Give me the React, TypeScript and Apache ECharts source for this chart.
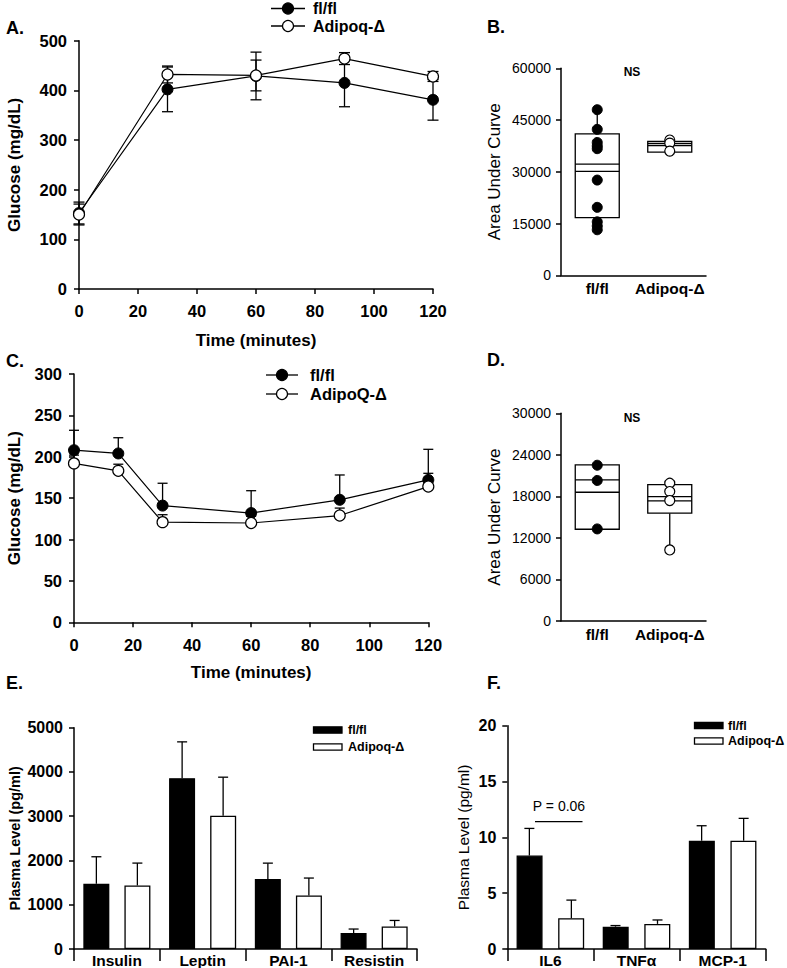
import React, { useEffect, useRef } from 'react';
import * as echarts from 'echarts';

const FONT = 'Arial, "Liberation Sans", Helvetica, sans-serif';

// ---- Panel A: glucose tolerance test ----
const gttTimes = [0, 30, 60, 90, 120];
const gttFlMean = [153, 402, 429, 415, 381];
const gttFlErr = [22, 45, 48, 48, 41];
const gttAdMean = [150, 432, 430, 464, 428];
const gttAdErr = [21, 17, 31, 12, 10];

// ---- Panel B: GTT area under curve ----
const groupCats = ['fl/fl', 'Adipoq-Δ'];
const aucGttFlPoints = [48000, 42300, 38500, 37500, 36700, 27600, 19700, 15500, 14300, 13200];
const aucGttAdPoints = [39200, 38300, 36000];
// [whiskerLow, q1, median, mean, q3, whiskerHigh]
const aucGttFlBox = [15500, 16700, 30100, 32200, 41000, 48000];
const aucGttAdBox = [35700, 35700, 37600, 38200, 38800, 38800];

// ---- Panel C: insulin tolerance test ----
const ittTimes = [0, 15, 30, 60, 90, 120];
const ittFlMean = [208, 204, 141, 132, 148, 172];
const ittFlErr = [24, 19, 27, 27, 30, 37];
const ittAdMean = [192, 183, 121, 120, 129, 164];
const ittAdErr = [10, 8, 9, 8, 9, 16];

// ---- Panel D: ITT area under curve ----
const aucIttFlPoints = [22500, 20300, 13300];
const aucIttAdPoints = [19900, 18700, 17400, 10260];
const aucIttFlBox = [13250, 13250, 20380, 18600, 22550, 22550];
const aucIttAdBox = [10260, 15570, 17970, 17350, 19700, 19700];

// ---- Panel E: adipokines ----
const adipokineCats = ['Insulin', 'Leptin', 'PAI-1', 'Resistin'];
const adipokineFl = [1474, 3860, 1580, 361];
const adipokineFlErr = [610, 820, 360, 90];
const adipokineAd = [1436, 3009, 1210, 510];
const adipokineAdErr = [505, 873, 393, 135];

// ---- Panel F: cytokines ----
const cytokineCats = ['IL6', 'TNFα', 'MCP-1'];
const cytokineFl = [8.37, 2.0, 9.7];
const cytokineFlErr = [2.43, 0.1, 1.34];
const cytokineAd = [2.75, 2.25, 9.7];
const cytokineAdErr = [1.63, 0.35, 2.0];

const BLACK = '#000';
const errStyle = { stroke: BLACK, lineWidth: 1.3, fill: 'none' };

function lineErrRender(capHalf: number, both: boolean) {
  return (_p: any, api: any) => {
    const x = api.value(0);
    const y = api.value(1);
    const e = api.value(2);
    const top = api.coord([x, y + e]);
    const bot = api.coord([x, both ? y - e : y]);
    const children: any[] = [
      { type: 'line', shape: { x1: top[0], y1: top[1], x2: bot[0], y2: bot[1] }, style: errStyle },
      { type: 'line', shape: { x1: top[0] - capHalf, y1: top[1], x2: top[0] + capHalf, y2: top[1] }, style: errStyle },
    ];
    if (both) {
      children.push({ type: 'line', shape: { x1: bot[0] - capHalf, y1: bot[1], x2: bot[0] + capHalf, y2: bot[1] }, style: errStyle });
    }
    return { type: 'group', children };
  };
}

function barErrRender(dx: number, capHalf: number) {
  return (_p: any, api: any) => {
    const c = api.value(0);
    const y = api.value(1);
    const e = api.value(2);
    const top = api.coord([c, y + e]);
    const bot = api.coord([c, y]);
    const x = top[0] + dx;
    return {
      type: 'group',
      children: [
        { type: 'line', shape: { x1: x, y1: top[1], x2: x, y2: bot[1] }, style: errStyle },
        { type: 'line', shape: { x1: x - capHalf, y1: top[1], x2: x + capHalf, y2: top[1] }, style: errStyle },
      ],
    };
  };
}

function boxRender(halfW: number) {
  return (_p: any, api: any) => {
    const c = api.value(0);
    const wl = api.value(1), q1 = api.value(2), med = api.value(3), mean = api.value(4), q3 = api.value(5), wh = api.value(6);
    const pq1 = api.coord([c, q1]);
    const pq3 = api.coord([c, q3]);
    const pmed = api.coord([c, med]);
    const pmean = api.coord([c, mean]);
    const pwl = api.coord([c, wl]);
    const pwh = api.coord([c, wh]);
    const cx = pq1[0];
    const st = { stroke: BLACK, lineWidth: 1.3, fill: '#fff' };
    const ln = { stroke: BLACK, lineWidth: 1.3 };
    const children: any[] = [];
    if (wh > q3) children.push({ type: 'line', shape: { x1: cx, y1: pq3[1], x2: cx, y2: pwh[1] }, style: ln });
    if (wl < q1) children.push({ type: 'line', shape: { x1: cx, y1: pq1[1], x2: cx, y2: pwl[1] }, style: ln });
    children.push({ type: 'rect', shape: { x: cx - halfW, y: pq3[1], width: 2 * halfW, height: pq1[1] - pq3[1] }, style: st });
    children.push({ type: 'line', shape: { x1: cx - halfW, y1: pmed[1], x2: cx + halfW, y2: pmed[1] }, style: ln });
    children.push({ type: 'line', shape: { x1: cx - halfW, y1: pmean[1], x2: cx + halfW, y2: pmean[1] }, style: ln });
    return { type: 'group', children };
  };
}

const axisLine = { show: true, onZero: false, lineStyle: { color: BLACK, width: 1.5 } };
const tick = (len: number) => ({ show: true, inside: false, length: len, lineStyle: { color: BLACK, width: 1.5 } });
const lbl = (size: number, bold: boolean, margin: number) => ({
  color: BLACK,
  fontFamily: FONT,
  fontSize: size,
  fontWeight: bold ? 'bold' : 'normal',
  margin,
  interval: 0,
  hideOverlap: false,
});
const numLbl = (size: number, bold: boolean, margin: number) => ({
  color: BLACK,
  fontFamily: FONT,
  fontSize: size,
  fontWeight: bold ? 'bold' : 'normal',
  margin,
  formatter: (v: number) => String(v),
});
const nameStyle = (size: number, bold: boolean) => ({
  color: BLACK,
  fontFamily: FONT,
  fontSize: size,
  fontWeight: bold ? 'bold' : 'normal',
});

function txt(text: string, x: number, y: number, size: number, bold: boolean, align = 'left') {
  return {
    type: 'text',
    x,
    y,
    style: {
      text,
      font: `${bold ? 'bold ' : ''}${size}px ${FONT}`,
      fill: BLACK,
      textAlign: align,
      textVerticalAlign: 'middle',
    },
  };
}

function lineLegend(x1: number, x2: number, y: number, filled: boolean) {
  return [
    { type: 'line', shape: { x1, y1: y, x2, y2: y }, style: { stroke: BLACK, lineWidth: 1.3 } },
    {
      type: 'circle',
      shape: { cx: (x1 + x2) / 2, cy: y, r: 5.5 },
      style: { fill: filled ? BLACK : '#fff', stroke: BLACK, lineWidth: 1.2 },
    },
  ];
}

function barLegend(x: number, y: number, filled: boolean) {
  return {
    type: 'rect',
    shape: { x, y: y - 3.2, width: 28.5, height: 6.4 },
    style: { fill: filled ? BLACK : '#fff', stroke: BLACK, lineWidth: 1.3 },
  };
}

const filledItem = { color: BLACK, borderColor: BLACK, borderWidth: 1, opacity: 1 };
const openItem = { color: '#fff', borderColor: BLACK, borderWidth: 1.2, opacity: 1 };

const option: any = {
  animation: false,
  backgroundColor: '#fff',
  grid: [
    { left: 79, top: 40.7, width: 354, height: 248.3 },
    { left: 561, top: 68.3, width: 145, height: 207 },
    { left: 74, top: 374, width: 354.3, height: 248.3 },
    { left: 561, top: 413.3, width: 145, height: 207.7 },
    { left: 74, top: 727.7, width: 343, height: 221.6 },
    { left: 507.3, top: 725.7, width: 258.4, height: 225.3 },
  ],
  xAxis: [
    {
      gridIndex: 0, type: 'value', min: 0, max: 120, interval: 20,
      axisLine, axisTick: tick(5), splitLine: { show: false },
      axisLabel: numLbl(16.5, true, 13),
      name: 'Time (minutes)', nameLocation: 'middle', nameGap: 43, nameTextStyle: nameStyle(17, true),
    },
    {
      gridIndex: 1, type: 'category', data: groupCats,
      axisLine, axisTick: { show: false }, splitLine: { show: false },
      axisLabel: lbl(15.5, true, 5),
    },
    {
      gridIndex: 2, type: 'value', min: 0, max: 120, interval: 20,
      axisLine, axisTick: tick(5), splitLine: { show: false },
      axisLabel: numLbl(16.5, true, 14),
      name: 'Time (minutes)', nameLocation: 'middle', nameGap: 42, nameTextStyle: nameStyle(17, true),
    },
    {
      gridIndex: 3, type: 'category', data: groupCats,
      axisLine, axisTick: { show: false }, splitLine: { show: false },
      axisLabel: lbl(15.5, true, 5),
    },
    {
      gridIndex: 4, type: 'category', data: adipokineCats,
      axisLine, axisTick: tick(12), splitLine: { show: false },
      axisLabel: lbl(15.5, true, 3),
    },
    {
      gridIndex: 5, type: 'category', data: cytokineCats,
      axisLine, axisTick: tick(12), splitLine: { show: false },
      axisLabel: lbl(15.5, true, 3),
    },
  ],
  yAxis: [
    {
      gridIndex: 0, type: 'value', min: 0, max: 500, interval: 100,
      axisLine, axisTick: tick(5), splitLine: { show: false },
      axisLabel: numLbl(16.5, true, 12),
      name: 'Glucose (mg/dL)', nameLocation: 'middle', nameGap: 56, nameTextStyle: nameStyle(17, true),
    },
    {
      gridIndex: 1, type: 'value', min: 0, max: 60000, interval: 15000,
      axisLine, axisTick: tick(5), splitLine: { show: false },
      axisLabel: numLbl(14, false, 10),
      name: 'Area Under Curve', nameLocation: 'middle', nameGap: 58, nameTextStyle: nameStyle(17, false),
    },
    {
      gridIndex: 2, type: 'value', min: 0, max: 300, interval: 50,
      axisLine, axisTick: tick(5), splitLine: { show: false },
      axisLabel: numLbl(16.5, true, 12),
      name: 'Glucose (mg/dL)', nameLocation: 'middle', nameGap: 51, nameTextStyle: nameStyle(17, true),
    },
    {
      gridIndex: 3, type: 'value', min: 0, max: 30000, interval: 6000,
      axisLine, axisTick: tick(5), splitLine: { show: false },
      axisLabel: numLbl(14, false, 10),
      name: 'Area Under Curve', nameLocation: 'middle', nameGap: 58, nameTextStyle: nameStyle(17, false),
    },
    {
      gridIndex: 4, type: 'value', min: 0, max: 5000, interval: 1000,
      axisLine, axisTick: tick(5), splitLine: { show: false },
      axisLabel: numLbl(16, true, 11),
      name: 'Plasma Level (pg/ml)', nameLocation: 'middle', nameGap: 52, nameTextStyle: nameStyle(14.5, true),
    },
    {
      gridIndex: 5, type: 'value', min: 0, max: 20, interval: 5,
      axisLine, axisTick: tick(5), splitLine: { show: false },
      axisLabel: numLbl(16, true, 11),
      name: 'Plasma Level (pg/ml)', nameLocation: 'middle', nameGap: 36, nameTextStyle: nameStyle(15.5, false),
    },
  ],
  series: [
    // Panel A
    {
      type: 'custom', name: 'fl/fl err A', xAxisIndex: 0, yAxisIndex: 0, z: 1,
      renderItem: lineErrRender(5.5, true),
      data: gttTimes.map((t, i) => [t, gttFlMean[i], gttFlErr[i]]),
    },
    {
      type: 'custom', name: 'Adipoq-Δ err A', xAxisIndex: 0, yAxisIndex: 0, z: 1,
      renderItem: lineErrRender(5.5, true),
      data: gttTimes.map((t, i) => [t, gttAdMean[i], gttAdErr[i]]),
    },
    {
      type: 'line', name: 'fl/fl', xAxisIndex: 0, yAxisIndex: 0, z: 3,
      data: gttTimes.map((t, i) => [t, gttFlMean[i]]),
      symbol: 'circle', symbolSize: 11,
      lineStyle: { color: BLACK, width: 1.2 },
      itemStyle: filledItem,
    },
    {
      type: 'line', name: 'Adipoq-Δ', xAxisIndex: 0, yAxisIndex: 0, z: 4,
      data: gttTimes.map((t, i) => [t, gttAdMean[i]]),
      symbol: 'circle', symbolSize: 11,
      lineStyle: { color: BLACK, width: 1.2 },
      itemStyle: openItem,
    },
    // Panel B
    {
      type: 'custom', name: 'AUC GTT box', xAxisIndex: 1, yAxisIndex: 1, z: 2,
      renderItem: boxRender(22),
      data: [[0, ...aucGttFlBox], [1, ...aucGttAdBox]],
    },
    {
      type: 'scatter', name: 'fl/fl AUC', xAxisIndex: 1, yAxisIndex: 1, z: 3,
      symbol: 'circle', symbolSize: 10,
      itemStyle: filledItem,
      data: aucGttFlPoints.map((v) => [0, v]),
    },
    {
      type: 'scatter', name: 'Adipoq-Δ AUC', xAxisIndex: 1, yAxisIndex: 1, z: 3,
      symbol: 'circle', symbolSize: 10,
      itemStyle: openItem,
      data: aucGttAdPoints.map((v) => [1, v]),
    },
    // Panel C
    {
      type: 'custom', name: 'fl/fl err C', xAxisIndex: 2, yAxisIndex: 2, z: 1,
      renderItem: lineErrRender(5, false),
      data: ittTimes.map((t, i) => [t, ittFlMean[i], ittFlErr[i]]),
    },
    {
      type: 'custom', name: 'AdipoQ-Δ err C', xAxisIndex: 2, yAxisIndex: 2, z: 1,
      renderItem: lineErrRender(5, false),
      data: ittTimes.map((t, i) => [t, ittAdMean[i], ittAdErr[i]]),
    },
    {
      type: 'line', name: 'fl/fl ITT', xAxisIndex: 2, yAxisIndex: 2, z: 3,
      data: ittTimes.map((t, i) => [t, ittFlMean[i]]),
      symbol: 'circle', symbolSize: 11,
      lineStyle: { color: BLACK, width: 1.2 },
      itemStyle: filledItem,
    },
    {
      type: 'line', name: 'AdipoQ-Δ ITT', xAxisIndex: 2, yAxisIndex: 2, z: 4,
      data: ittTimes.map((t, i) => [t, ittAdMean[i]]),
      symbol: 'circle', symbolSize: 11,
      lineStyle: { color: BLACK, width: 1.2 },
      itemStyle: openItem,
    },
    // Panel D
    {
      type: 'custom', name: 'AUC ITT box', xAxisIndex: 3, yAxisIndex: 3, z: 2,
      renderItem: boxRender(22),
      data: [[0, ...aucIttFlBox], [1, ...aucIttAdBox]],
    },
    {
      type: 'scatter', name: 'fl/fl AUC ITT', xAxisIndex: 3, yAxisIndex: 3, z: 3,
      symbol: 'circle', symbolSize: 10,
      itemStyle: filledItem,
      data: aucIttFlPoints.map((v) => [0, v]),
    },
    {
      type: 'scatter', name: 'Adipoq-Δ AUC ITT', xAxisIndex: 3, yAxisIndex: 3, z: 3,
      symbol: 'circle', symbolSize: 10,
      itemStyle: openItem,
      data: aucIttAdPoints.map((v) => [1, v]),
    },
    // Panel E
    {
      type: 'bar', name: 'fl/fl E', xAxisIndex: 4, yAxisIndex: 4, z: 2,
      data: adipokineFl, barWidth: 26, barGap: '58%',
      itemStyle: { color: BLACK, borderColor: BLACK, borderWidth: 1.3 },
    },
    {
      type: 'bar', name: 'Adipoq-Δ E', xAxisIndex: 4, yAxisIndex: 4, z: 2,
      data: adipokineAd, barWidth: 26, barGap: '58%',
      itemStyle: { color: '#fff', borderColor: BLACK, borderWidth: 1.3 },
    },
    {
      type: 'custom', name: 'fl/fl err E', xAxisIndex: 4, yAxisIndex: 4, z: 3,
      renderItem: barErrRender(-20.5, 5),
      data: adipokineFl.map((v, i) => [i, v, adipokineFlErr[i]]),
    },
    {
      type: 'custom', name: 'Adipoq-Δ err E', xAxisIndex: 4, yAxisIndex: 4, z: 3,
      renderItem: barErrRender(20.5, 5),
      data: adipokineAd.map((v, i) => [i, v, adipokineAdErr[i]]),
    },
    // Panel F
    {
      type: 'bar', name: 'fl/fl F', xAxisIndex: 5, yAxisIndex: 5, z: 2,
      data: cytokineFl, barWidth: 26, barGap: '60%',
      itemStyle: { color: BLACK, borderColor: BLACK, borderWidth: 1.3 },
    },
    {
      type: 'bar', name: 'Adipoq-Δ F', xAxisIndex: 5, yAxisIndex: 5, z: 2,
      data: cytokineAd, barWidth: 26, barGap: '60%',
      itemStyle: { color: '#fff', borderColor: BLACK, borderWidth: 1.3 },
    },
    {
      type: 'custom', name: 'fl/fl err F', xAxisIndex: 5, yAxisIndex: 5, z: 3,
      renderItem: barErrRender(-21, 5),
      data: cytokineFl.map((v, i) => [i, v, cytokineFlErr[i]]),
    },
    {
      type: 'custom', name: 'Adipoq-Δ err F', xAxisIndex: 5, yAxisIndex: 5, z: 3,
      renderItem: barErrRender(21, 5),
      data: cytokineAd.map((v, i) => [i, v, cytokineAdErr[i]]),
    },
  ],
  graphic: [
    // panel letters
    txt('A.', 6, 28, 18, true),
    txt('B.', 487, 27, 18, true),
    txt('C.', 6, 361, 18, true),
    txt('D.', 487, 360, 18, true),
    txt('E.', 6, 683, 18, true),
    txt('F.', 487, 683, 18, true),
    // legend A
    ...lineLegend(271, 305, 8.5, true),
    txt('fl/fl', 313, 8.5, 16, true),
    ...lineLegend(271, 305, 26, false),
    txt('Adipoq-Δ', 313, 26, 16, true),
    // legend C
    ...lineLegend(266, 298, 375, true),
    txt('fl/fl', 310, 375, 16.5, true),
    ...lineLegend(266, 298, 394, false),
    txt('AdipoQ-Δ', 310, 394, 16.5, true),
    // NS labels
    txt('NS', 632, 72, 12, true, 'center'),
    txt('NS', 632, 418, 12, true, 'center'),
    // legend E
    barLegend(313.5, 730, true),
    txt('fl/fl', 348, 730, 12.5, true),
    barLegend(313.5, 747, false),
    txt('Adipoq-Δ', 348, 747, 12.5, true),
    // legend F
    barLegend(694.5, 725.5, true),
    txt('fl/fl', 728, 725.5, 12.5, true),
    barLegend(694.5, 741, false),
    txt('Adipoq-Δ', 728, 741, 12.5, true),
    // significance annotation F
    { type: 'line', shape: { x1: 535, y1: 821.7, x2: 582.5, y2: 821.7 }, style: { stroke: BLACK, lineWidth: 1.2 } },
    txt('P = 0.06', 559, 806, 14, false, 'center'),
  ],
};

export default function App() {
  const ref = useRef<HTMLDivElement>(null);
  useEffect(() => {
    if (!ref.current) return;
    const chart = echarts.init(ref.current, null, { renderer: 'svg' });
    chart.setOption(option);
    return () => chart.dispose();
  }, []);
  return (
    <div
      ref={ref}
      style={{ position: 'fixed', left: 0, top: 0, width: 787, height: 968, background: '#fff' }}
    />
  );
}
